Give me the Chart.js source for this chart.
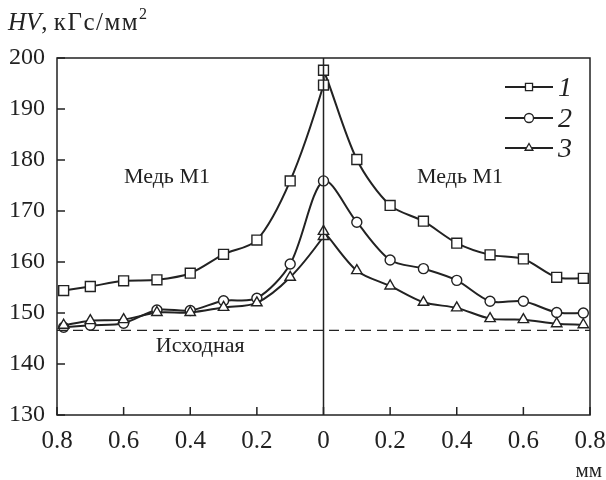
<!DOCTYPE html>
<html>
<head>
<meta charset="utf-8">
<script src="https://cdn.jsdelivr.net/npm/chart.js@4.4.0/dist/chart.umd.min.js"></script>
<style>
body { margin: 0; background: #fff; }
#wrap { width: 606px; height: 480px; position: relative; }
</style>
</head>
<body>
<div id="wrap"><canvas id="container"></canvas></div>
<script>
// distance from the joint, mm (negative = left side)
var xPos1 = [-0.78,-0.7,-0.6,-0.5,-0.4,-0.3,-0.2,-0.1,0,0,0.1,0.2,0.3,0.4,0.5,0.6,0.7,0.78];
var hv1   = [154.4,155.2,156.3,156.5,157.8,161.5,164.3,175.9,194.7,197.6,180.1,171.1,168.0,163.7,161.4,160.6,157.0,156.8];

var xPos2 = [-0.78,-0.7,-0.6,-0.5,-0.4,-0.3,-0.2,-0.1,0,0.1,0.2,0.3,0.4,0.5,0.6,0.7,0.78];
var hv2   = [147.2,147.6,148.0,150.6,150.5,152.4,152.9,159.6,175.9,167.8,160.4,158.7,156.4,152.3,152.3,150.1,150.0];

var xPos3 = [-0.78,-0.7,-0.6,-0.5,-0.4,-0.3,-0.2,-0.1,0,0,0.1,0.2,0.3,0.4,0.5,0.6,0.7,0.78];
var hv3   = [147.6,148.5,148.7,150.1,150.1,151.1,152.0,157.0,165.0,166.0,158.3,155.3,152.1,151.0,148.9,148.7,147.9,147.7];

var hvBase = 146.6;   // initial hardness level
var seriesNames = ["1", "2", "3"];
var markers = ["rect", "circle", "triangle"];

var serif = "'Liberation Serif', 'Times New Roman', serif";

function toPoints(xs, ys)
{
    var out = [];
    for(var i=0;i<xs.length;i++)
    {
        out.push({x: xs[i], y: ys[i]});
    }
    return out;
}

function curve(xs, ys, style, r)
{
    return {
        data: toPoints(xs, ys),
        borderColor: "#222",
        borderWidth: 2,
        tension: 0.3,
        pointStyle: style,
        pointRadius: r,
        pointBorderWidth: 1.4,
        pointBorderColor: "#222",
        pointBackgroundColor: "#fff",
    };
}

// text, ticks, frame and legend on top of the chart
var extras = {
    id: "extras",
    afterDraw: function(chart)
    {
        var ctx = chart.ctx;
        var xs = chart.scales.x, ys = chart.scales.y;
        var a = chart.chartArea;
        ctx.save();
        ctx.strokeStyle = "#222";
        ctx.lineWidth = 1.5;
        ctx.strokeRect(a.left, a.top, a.right - a.left, a.bottom - a.top);

        // inward tick marks
        ctx.beginPath();
        for(var v=-0.8; v<0.81; v+=0.2)
        {
            var px = xs.getPixelForValue(v);
            ctx.moveTo(px, a.bottom);
            ctx.lineTo(px, a.bottom - 8);
        }
        for(var h=130; h<=200; h+=10)
        {
            var py = ys.getPixelForValue(h);
            ctx.moveTo(a.left, py);
            ctx.lineTo(a.left + 8, py);
        }
        ctx.stroke();

        ctx.fillStyle = "#222";
        ctx.textBaseline = "alphabetic";
        ctx.font = "22px " + serif;
        ctx.textAlign = "center";
        ctx.fillText("Медь М1", xs.getPixelForValue(-0.47), ys.getPixelForValue(175.5));
        ctx.fillText("Медь М1", xs.getPixelForValue(0.41), ys.getPixelForValue(175.5));
        ctx.fillText("Исходная", xs.getPixelForValue(-0.37), ys.getPixelForValue(142.4));

        // axis captions
        ctx.textAlign = "left";
        ctx.font = "italic 25px " + serif;
        ctx.fillText("HV", 8, 30);
        var w = ctx.measureText("HV").width;
        ctx.font = "25px " + serif;
        ctx.fillText(",", 8 + w, 30);
        w += ctx.measureText(", ").width;
        ctx.letterSpacing = "1.5px";
        ctx.fillText("кГс/мм", 8 + w, 30);
        w += ctx.measureText("кГс/мм").width;
        ctx.letterSpacing = "0px";
        ctx.font = "16px " + serif;
        ctx.fillText("2", 8 + w, 19);

        ctx.textAlign = "right";
        ctx.font = "21px " + serif;
        ctx.fillText("мм", 602, 477);

        // legend
        var rows = [87, 118, 148];
        for(var i=0;i<3;i++)
        {
            ctx.beginPath();
            ctx.lineWidth = 2;
            ctx.moveTo(505, rows[i]);
            ctx.lineTo(553, rows[i]);
            ctx.stroke();
            ctx.fillStyle = "#fff";
            ctx.lineWidth = 1.3;
            Chart.helpers.drawPoint(ctx, {pointStyle: markers[i], radius: i==0 ? 5 : 4.5, borderWidth: 1.3, rotation: 0}, 529, rows[i]);
            ctx.fillStyle = "#222";
            ctx.textAlign = "left";
            ctx.font = "italic 28px " + serif;
            ctx.fillText(seriesNames[i], 558, rows[i] + 9);
        }
        ctx.restore();
    }
};

var container = document.getElementById("container").getContext("2d");
var mychart = new Chart(container, {
    type: 'line',
    data: {
        datasets: [
            { data: [{x:0,y:130},{x:0,y:200}], borderColor: "#222", borderWidth: 1.5, pointRadius: 0 },
            { data: [{x:-0.8,y:hvBase},{x:0.8,y:hvBase}], borderColor: "#222", borderWidth: 1.3, borderDash: [10,6], pointRadius: 0 },
            curve(xPos3, hv3, "triangle", 6),
            curve(xPos2, hv2, "circle", 5),
            curve(xPos1, hv1, "rect", 7),
        ],
    },
    options: {
        responsive: true,
        maintainAspectRatio: false,
        animation: false,
        layout: { padding: { top: 58, right: 16, left: 0, bottom: 0 } },
        plugins: { legend: { display: false }, tooltip: { enabled: false } },
        scales: {
            x: {
                type: 'linear', min: -0.8, max: 0.8,
                grid: { display: false },
                border: { display: false },
                afterFit: function(s) { s.height = 65; s.paddingLeft = 0; s.paddingRight = 0; },
                ticks: {
                    stepSize: 0.2, padding: 3, color: "#222",
                    font: { family: serif, size: 25 },
                    maxRotation: 0,
                    callback: function(v) { return Math.abs(v) < 1e-9 ? "0" : Math.abs(v).toFixed(1); },
                },
            },
            y: {
                min: 130, max: 200,
                grid: { display: false },
                border: { display: false },
                afterFit: function(s) { s.width = 57; s.paddingTop = 0; s.paddingBottom = 0; },
                ticks: {
                    stepSize: 10, padding: 4, color: "#222",
                    font: { family: serif, size: 24 },
                },
            },
        },
    },
    plugins: [extras],
});
</script>
</body>
</html>
